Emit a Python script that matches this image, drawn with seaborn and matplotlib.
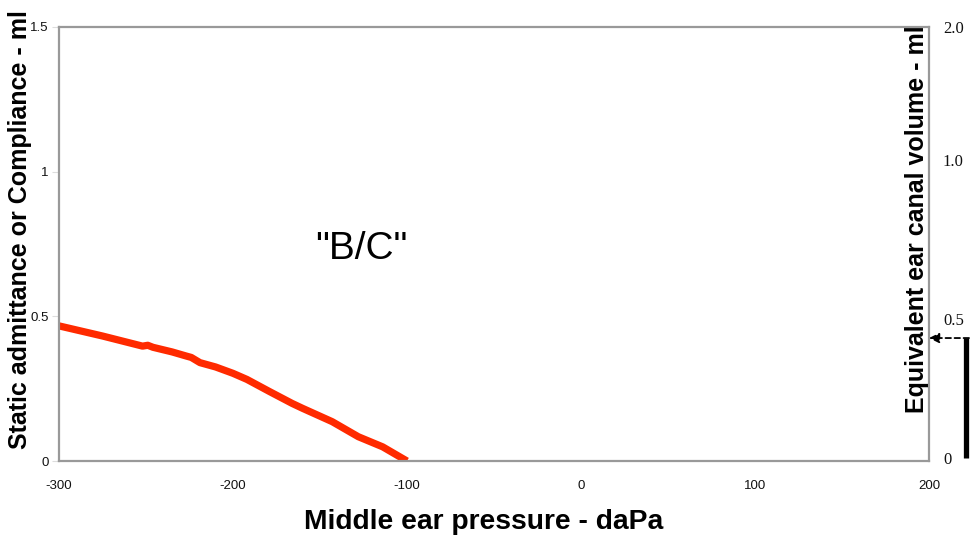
import matplotlib
matplotlib.use("Agg")
import matplotlib.pyplot as plt
import seaborn as sns
import pandas as pd

# Tympanogram trace (pressure in daPa, admittance in ml)
pressure = [-300, -275, -252, -249, -246, -235, -227, -224, -219, -210, -200,
            -192, -179, -166, -160, -143, -128, -114, -100]
admittance = [0.467, 0.432, 0.397, 0.400, 0.393, 0.377, 0.363, 0.358, 0.340,
              0.325, 0.303, 0.282, 0.240, 0.199, 0.182, 0.136, 0.084, 0.049, 0.0]

x_ticks = [-300, -200, -100, 0, 100, 200]
y_ticks = [0, 0.5, 1, 1.5]
y_tick_labels = ["0", "0.5", "1", "1.5"]

# Equivalent ear canal volume scale (drawn on the right-hand side)
ecv_tick_pos = [0.01, 0.49, 1.04, 1.5]
ecv_tick_labels = ["0", "0.5", "1.0", "2.0"]
ecv_value = 0.425

df = pd.DataFrame({"pressure": pressure, "admittance": admittance})

sns.set_style("white")
plt.rcParams["font.family"] = ["Liberation Sans", "DejaVu Sans"]
plt.rcParams["text.color"] = "black"
plt.rcParams["axes.labelcolor"] = "black"

fig = plt.figure(figsize=(9.74, 5.45), dpi=100)
ax = fig.add_axes([0.0606, 0.1541, 0.8932, 0.7964])

sns.lineplot(data=df, x="pressure", y="admittance", ax=ax, color="#ff2a00",
             linewidth=5.2, solid_capstyle="butt", sort=False)

ax.set_xlim(-300, 200)
ax.set_ylim(0, 1.5)
ax.set_xticks(x_ticks)
ax.set_xticklabels([str(v) for v in x_ticks])
ax.set_yticks(y_ticks)
ax.set_yticklabels(y_tick_labels)
ax.tick_params(axis="both", length=5, width=0.8, color="#dddddd",
               labelcolor="#111111", labelsize=9.5, direction="out", pad=2.5)
ax.tick_params(axis="x", pad=9)
for s in ax.spines.values():
    s.set_color("#999999")
    s.set_linewidth(1.6)
    s.set_visible(True)
ax.set_xlabel("")
ax.set_ylabel("")

# Axis titles
fig.text(0.497, 0.042, "Middle ear pressure - daPa", fontsize=20.3,
         fontweight="bold", ha="center", va="center")
fig.text(0.0205, 0.578, "Static admittance or Compliance - ml", fontsize=18,
         fontweight="bold", rotation=90, ha="center", va="center")
fig.text(0.9415, 0.598, "Equivalent ear canal volume - ml", fontsize=18,
         fontweight="bold", rotation=90, ha="center", va="center")

ax.text(-126, 0.733, '"B/C"', fontsize=28, ha="center", va="center")

# Right-hand volume scale
ax2 = ax.twinx()
ax2.set_ylim(0, 1.5)
ax2.set_yticks(ecv_tick_pos)
ax2.set_yticklabels(ecv_tick_labels, fontfamily="Liberation Serif", fontsize=12)
ax2.tick_params(axis="y", length=0, pad=10, labelcolor="#111111")
for s in ax2.spines.values():
    s.set_visible(False)
ax2.grid(False)

# Volume bar with dashed arrow pointing at the scale
ax2.plot([1.043, 1.043], [0.01, ecv_value], transform=ax2.get_yaxis_transform(),
         color="black", linewidth=3.8, clip_on=False, solid_capstyle="butt")
ax2.annotate("", xy=(1.0, ecv_value), xycoords=ax2.get_yaxis_transform(),
             xytext=(1.046, ecv_value), textcoords=ax2.get_yaxis_transform(),
             arrowprops=dict(arrowstyle="-|>", linestyle=(0, (3, 2)), color="black",
                             linewidth=1.3, mutation_scale=15, shrinkA=0, shrinkB=0))

fig.savefig("out.png", dpi=100)
